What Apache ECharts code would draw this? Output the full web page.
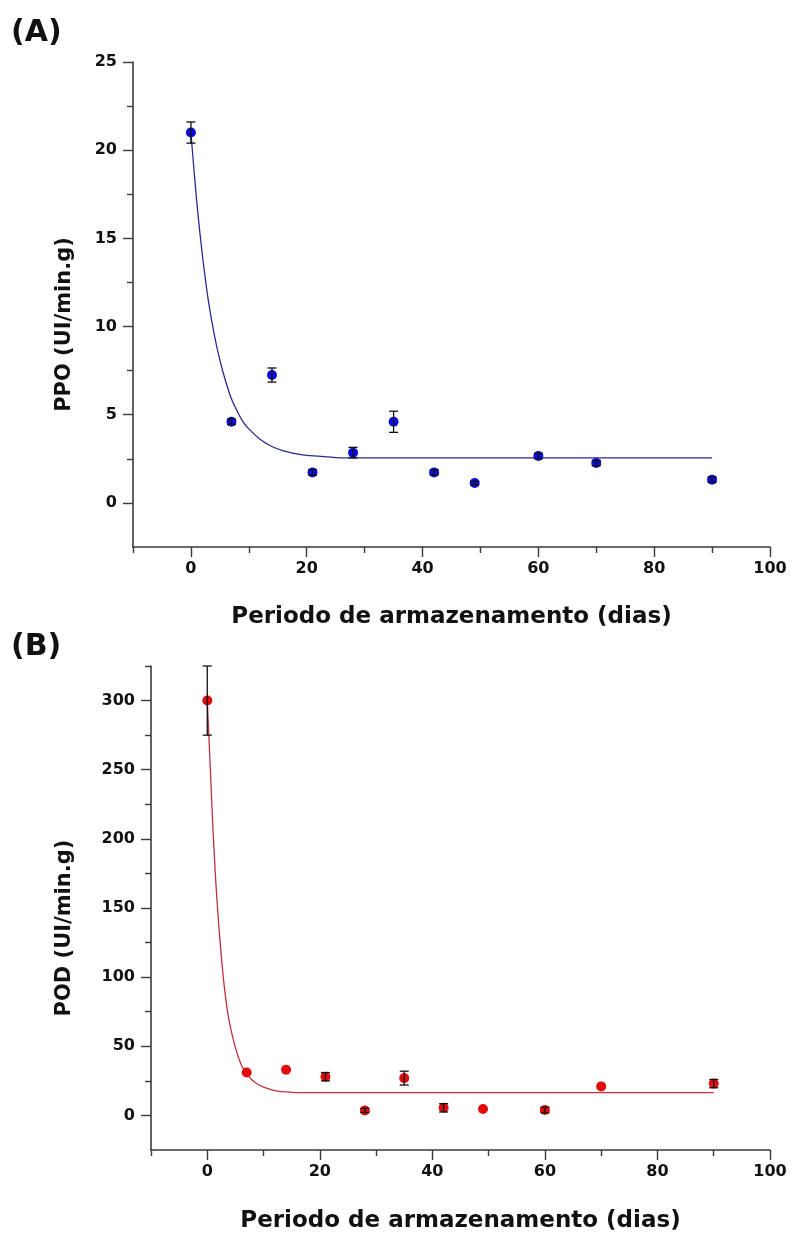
<!DOCTYPE html>
<html>
<head>
<meta charset="utf-8">
<script src="https://cdn.jsdelivr.net/npm/echarts@6/dist/echarts.min.js"></script>
<style>
  html, body { margin: 0; padding: 0; background: #fff; }
  #chart { width: 795px; height: 1236px; }
</style>
</head>
<body>
<div id="chart"></div>
<script>
// storage days (same for both panels)
var days = [0, 7, 14, 21, 28, 35, 42, 49, 60, 70, 90];

// (A) PPO
var ppoMean = [21.0, 4.6, 7.25, 1.73, 2.85, 4.6, 1.73, 1.13, 2.66, 2.26, 1.32];
var ppoErr = [0.6, 0.15, 0.4, 0.15, 0.3, 0.6, 0.15, 0.1, 0.15, 0.15, 0.15];
var ppoFitX = [0, 1, 2, 3, 4, 5, 6, 7, 8, 9, 10, 12, 14, 16, 18, 20, 22, 25, 30, 90];
var ppoFitY = [21.0, 17.1, 14.0, 11.5, 9.6, 8.1, 6.9, 5.9, 5.2, 4.6, 4.2, 3.6, 3.2, 2.95, 2.8, 2.7, 2.65, 2.57, 2.55, 2.55];

// (B) POD
var podMean = [300, 31, 33, 28, 3.6, 27, 5.5, 4.6, 3.9, 21, 23];
var podErr = [25, 0, 0, 3, 1.5, 5, 3, 0, 2, 0, 3];
var podFitX = [0, 0.5, 1, 1.5, 2, 2.5, 3, 3.5, 4, 5, 6, 7, 8, 9, 10, 12, 14, 16, 90];
var podFitY = [300, 255, 208, 170, 140, 115, 94, 78, 66, 49, 37, 30, 25.5, 22.5, 20.5, 18, 17, 16.5, 16.5];

// tick values
var dayTicks = [0, 20, 40, 60, 80, 100];
var dayMinor = [-10, 10, 30, 50, 70, 90];
var ppoTicks = [0, 5, 10, 15, 20, 25];
var ppoMinor = [2.5, 7.5, 12.5, 17.5, 22.5];
var podTicks = [0, 50, 100, 150, 200, 250, 300];
var podMinor = [25, 75, 125, 175, 225, 275, 325];

var FONT = '"DejaVu Sans", Arial, sans-serif';
var AXIS_COLOR = '#3a3a3a';

function pairs(xs, ys) {
    return xs.map(function (x, i) { return [x, ys[i]]; });
}
function triples(xs, ys, es) {
    return xs.map(function (x, i) { return [x, ys[i], es[i]]; });
}

function mainAxis(gridIndex, min, max, ticks, name, isX, gap) {
    return {
        type: 'value',
        gridIndex: gridIndex,
        position: isX ? 'bottom' : 'left',
        min: min,
        max: max,
        name: name,
        nameLocation: 'middle',
        nameGap: gap,
        nameTextStyle: {
            fontFamily: FONT, fontWeight: 'bold', fontSize: isX ? 23 : 21, color: '#111',
            // y titles sit a little below the axis middle in the original
            padding: isX ? 0 : [0, 40, 0, 0]
        },
        axisLine: { show: true, onZero: false, lineStyle: { color: AXIS_COLOR, width: 1.6 } },
        axisTick: { show: true, inside: false, length: 10, customValues: ticks, lineStyle: { color: AXIS_COLOR, width: 1.4 } },
        axisLabel: { customValues: ticks, margin: isX ? 14 : 16, fontFamily: FONT, fontWeight: 'bold', fontSize: 16, color: '#111' },
        splitLine: { show: false }
    };
}
function minorAxis(gridIndex, min, max, ticks, isX) {
    return {
        type: 'value',
        gridIndex: gridIndex,
        position: isX ? 'bottom' : 'left',
        min: min,
        max: max,
        axisLine: { show: false, onZero: false },
        axisTick: { show: true, inside: false, length: 6, customValues: ticks, lineStyle: { color: AXIS_COLOR, width: 1.4 } },
        axisLabel: { show: false },
        splitLine: { show: false }
    };
}

function errorBars(xIdx, yIdx, data) {
    return {
        type: 'custom',
        xAxisIndex: xIdx,
        yAxisIndex: yIdx,
        z: 5,
        silent: true,
        data: data,
        renderItem: function (params, api) {
            var x = api.value(0), y = api.value(1), e = api.value(2);
            if (!e) return null;
            var top = api.coord([x, y + e]);
            var bot = api.coord([x, y - e]);
            var w = 4.5;
            var style = { stroke: '#111', lineWidth: 1.3 };
            return {
                type: 'group',
                children: [
                    { type: 'line', shape: { x1: top[0], y1: top[1], x2: bot[0], y2: bot[1] }, style: style },
                    { type: 'line', shape: { x1: top[0] - w, y1: top[1], x2: top[0] + w, y2: top[1] }, style: style },
                    { type: 'line', shape: { x1: bot[0] - w, y1: bot[1], x2: bot[0] + w, y2: bot[1] }, style: style }
                ]
            };
        }
    };
}

var chart = echarts.init(document.getElementById('chart'));
chart.setOption({
    animation: false,
    backgroundColor: '#fff',
    graphic: [
        { type: 'text', left: 11, top: 18, style: { text: '(A)', font: 'bold 30px ' + FONT, fill: '#111' } },
        { type: 'text', left: 11, top: 632, style: { text: '(B)', font: 'bold 30px ' + FONT, fill: '#111' } }
    ],
    grid: [
        { left: 133, top: 62, width: 637, height: 485 },
        { left: 151, top: 666, width: 619, height: 484 }
    ],
    xAxis: [
        mainAxis(0, -10, 100, dayTicks, 'Periodo de armazenamento (dias)', true, 59),
        minorAxis(0, -10, 100, dayMinor, true),
        mainAxis(1, -10, 100, dayTicks, 'Periodo de armazenamento (dias)', true, 60),
        minorAxis(1, -10, 100, dayMinor, true)
    ],
    yAxis: [
        mainAxis(0, -2.5, 25, ppoTicks, 'PPO (UI/min.g)', false, 58),
        minorAxis(0, -2.5, 25, ppoMinor, false),
        mainAxis(1, -25, 325, podTicks, 'POD (UI/min.g)', false, 76),
        minorAxis(1, -25, 325, podMinor, false)
    ],
    series: [
        {
            name: 'PPO ajuste',
            type: 'line',
            xAxisIndex: 0,
            yAxisIndex: 0,
            data: pairs(ppoFitX, ppoFitY),
            smooth: 0.3,
            showSymbol: false,
            lineStyle: { color: '#2a2a90', width: 1.3 },
            z: 2
        },
        {
            name: 'PPO',
            type: 'scatter',
            xAxisIndex: 0,
            yAxisIndex: 0,
            data: pairs(days, ppoMean),
            symbol: 'circle',
            symbolSize: 10,
            itemStyle: { color: '#0c0cd8', opacity: 1 },
            z: 3
        },
        errorBars(0, 0, triples(days, ppoMean, ppoErr)),
        {
            name: 'POD ajuste',
            type: 'line',
            xAxisIndex: 2,
            yAxisIndex: 2,
            data: pairs(podFitX, podFitY),
            smooth: 0.3,
            showSymbol: false,
            lineStyle: { color: '#c0303c', width: 1.3 },
            z: 2
        },
        {
            name: 'POD',
            type: 'scatter',
            xAxisIndex: 2,
            yAxisIndex: 2,
            data: pairs(days, podMean),
            symbol: 'circle',
            symbolSize: 10,
            itemStyle: { color: '#e00c0c', opacity: 1 },
            z: 3
        },
        errorBars(2, 2, triples(days, podMean, podErr))
    ]
});
</script>
</body>
</html>
